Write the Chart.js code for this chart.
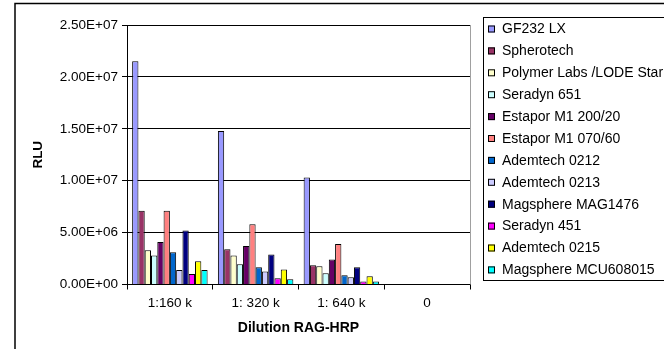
<!DOCTYPE html>
<html lang="en">
<head>
    <meta charset="UTF-8">
    <title>RLU vs Dilution RAG-HRP</title>
    <script src="https://cdn.jsdelivr.net/npm/chart.js"></script>
    <style>
        body { margin: 0; background: #fff; }
        #wrap { width: 664px; height: 349px; }
    </style>
</head>
<body>
    <div id="wrap"><canvas id="rluChart" width="664" height="349"></canvas></div>

    <script>
        // categories (x axis)
        const dilutions = ['1:160 k', '1: 320 k', '1: 640 k', '0'];

        // series names, same order as the legend
        const beadNames = ['GF232 LX', 'Spherotech', 'Polymer Labs /LODE Star', 'Seradyn 651',
            'Estapor M1 200/20', 'Estapor M1 070/60', 'Ademtech 0212', 'Ademtech 0213',
            'Magsphere MAG1476', 'Seradyn 451', 'Ademtech 0215', 'Magsphere MCU608015'];

        // RLU values per series, one value per dilution
        const gf232       = [21500000, 14800000, 10300000, 0];
        const spherotech  = [7100000, 3400000, 1850000, 0];
        const polymerLabs = [3300000, 2800000, 1750000, 0];
        const seradyn651  = [2800000, 1950000, 1080000, 0];
        const estapor200  = [4100000, 3700000, 2400000, 0];
        const estapor070  = [7100000, 5800000, 3900000, 0];
        const ademtech212 = [3100000, 1650000, 900000, 0];
        const ademtech213 = [1400000, 1250000, 700000, 0];
        const mag1476     = [5200000, 2900000, 1650000, 0];
        const seradyn451  = [1000000, 600000, 280000, 0];
        const ademtech215 = [2250000, 1450000, 800000, 0];
        const mcu608015   = [1400000, 500000, 280000, 0];

        const seriesValues = [gf232, spherotech, polymerLabs, seradyn651, estapor200, estapor070,
            ademtech212, ademtech213, mag1476, seradyn451, ademtech215, mcu608015];

        // y axis ticks
        const yTicks = [0, 5000000, 10000000, 15000000, 20000000, 25000000];

        // excel default palette
        const beadColors = ['#9999FF', '#993366', '#FFFFCC', '#CCFFFF', '#660066', '#FF8080',
            '#0066CC', '#CCCCFF', '#000080', '#FF00FF', '#FFFF00', '#00FFFF'];

        const FONT = "'Liberation Sans', Arial, sans-serif";

        function sci(v) {
            const parts = Number(v).toExponential(2).split('e');
            const n = parseInt(parts[1], 10);
            return parts[0] + 'E' + (n < 0 ? '-' : '+') + String(Math.abs(n)).padStart(2, '0');
        }

        // frame lines, plot border and the boxed legend
        const frame = {
            id: 'frame',
            beforeDraw(chart) {
                const ctx = chart.ctx;
                ctx.save();
                ctx.fillStyle = '#fff';
                ctx.fillRect(0, 0, chart.width, chart.height);
                ctx.restore();
            },
            afterDraw(chart) {
                const ctx = chart.ctx;
                const a = chart.chartArea;
                ctx.save();
                // outer chart border (only top + left visible)
                ctx.strokeStyle = '#000';
                ctx.lineWidth = 1.5;
                ctx.beginPath();
                ctx.moveTo(15, chart.height);
                ctx.lineTo(15, 3.5);
                ctx.lineTo(chart.width, 3.5);
                ctx.stroke();

                // plot area right edge
                ctx.strokeStyle = '#a0a0a0';
                ctx.lineWidth = 1;
                ctx.beginPath();
                ctx.moveTo(a.right + 0.5, a.top);
                ctx.lineTo(a.right + 0.5, a.bottom);
                ctx.stroke();

                // legend
                ctx.strokeStyle = '#000';
                ctx.strokeRect(483.5, 17.5, 200, 263);
                ctx.font = '14px ' + FONT;
                ctx.textBaseline = 'middle';
                ctx.fillStyle = '#000';
                chart.data.datasets.forEach((ds, i) => {
                    const y = 29 + i * 21.9;
                    ctx.fillStyle = ds.backgroundColor;
                    ctx.fillRect(488, y - 3.5, 7, 7);
                    ctx.strokeRect(488.5, y - 3.5 + 0.5, 6, 6);
                    ctx.fillStyle = '#000';
                    ctx.fillText(ds.label, 502, y + 0.5);
                });
                ctx.restore();
            }
        };

        const rluChart = new Chart(document.getElementById('rluChart').getContext('2d'), {
            type: 'bar',
            data: {
                labels: dilutions,
                datasets: beadNames.map((name, i) => ({
                    label: name,
                    data: seriesValues[i],
                    backgroundColor: beadColors[i],
                    borderColor: '#000',
                    borderWidth: 1,
                    categoryPercentage: 0.88,
                    barPercentage: 1
                }))
            },
            options: {
                responsive: false,
                animation: false,
                layout: { padding: { left: 0, top: 25, right: 194, bottom: 0 } },
                scales: {
                    x: {
                        afterFit: (scale) => { scale.height = 64.5; },
                        grid: { drawOnChartArea: false, drawTicks: true, tickLength: 5, tickColor: '#000', offset: true },
                        border: { display: true, color: '#000' },
                        ticks: { color: '#000', padding: 6, font: { family: FONT, size: 13.5 } },
                        title: {
                            display: true, text: 'Dilution RAG-HRP', color: '#000',
                            font: { family: FONT, size: 14, weight: 'bold' },
                            padding: { top: 0, bottom: 12 }
                        }
                    },
                    y: {
                        min: 0,
                        max: 25000000,
                        afterFit: (scale) => { scale.width = 127; },
                        afterBuildTicks: (scale) => { scale.ticks = yTicks.map(v => ({ value: v })); },
                        grid: { color: '#000', tickColor: '#000', tickLength: 5 },
                        border: { display: true, color: '#000' },
                        ticks: { color: '#000', padding: 4, font: { family: FONT, size: 13.5 }, callback: (v) => sci(v) },
                        title: {
                            display: true, text: 'RLU', color: '#000',
                            font: { family: FONT, size: 13.5, weight: 'bold' },
                            padding: { top: 30, bottom: 0 }
                        }
                    }
                },
                plugins: {
                    legend: { display: false },
                    tooltip: { enabled: false }
                }
            },
            plugins: [frame]
        });
    </script>
</body>
</html>
